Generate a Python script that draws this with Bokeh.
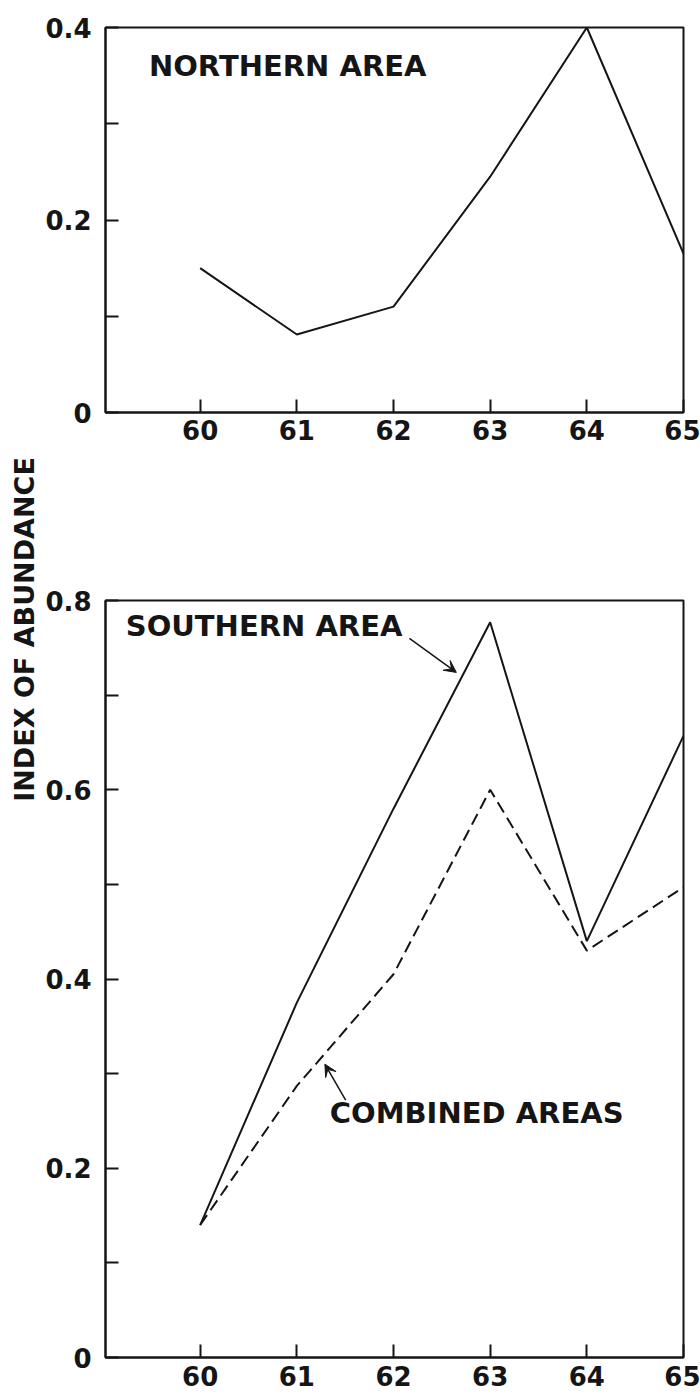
import math
from bokeh.plotting import figure
from bokeh.layouts import column, row
from bokeh.models import Label, Arrow, VeeHead, Range1d, FixedTicker
from bokeh.embed import file_html
from bokeh.resources import INLINE

# ---- data ----
years = [60, 61, 62, 63, 64, 65]
northern = [0.15, 0.081, 0.11, 0.245, 0.40, 0.165]
southern = [0.14, 0.375, 0.58, 0.777, 0.44, 0.657]
combined = [0.14, 0.287, 0.405, 0.60, 0.43, 0.497]
x_tick_labels = ["60", "61", "62", "63", "64", "65"]
top_y_ticks = [0, 0.2, 0.4]
top_y_labels = ["0", "0.2", "0.4"]
top_y_minor = [0.1, 0.3]
bot_y_ticks = [0, 0.2, 0.4, 0.6, 0.8]
bot_y_labels = ["0", "0.2", "0.4", "0.6", "0.8"]
bot_y_minor = [0.1, 0.3, 0.5, 0.7]

FONT = "DejaVu Sans"
INK = "#151515"
TITLE_W = 42
PLOT_W = 700 - TITLE_W


def style(p, yticks, ylabels, yminor, xstandoff):
    p.xgrid.visible = False
    p.ygrid.visible = False
    p.outline_line_color = INK
    p.outline_line_width = 2
    p.outline_line_alpha = 1
    p.background_fill_color = "white"
    p.border_fill_color = "white"
    xa = p.xaxis[0]
    ya = p.yaxis[0]
    xa.ticker = FixedTicker(ticks=years)
    xa.major_label_overrides = {y: l for y, l in zip(years, x_tick_labels)}
    ya.ticker = FixedTicker(ticks=yticks, minor_ticks=yminor)
    ya.major_label_overrides = {t: l for t, l in zip(yticks, ylabels)}
    for ax in (xa, ya):
        ax.axis_line_color = INK
        ax.axis_line_width = 2
        ax.major_tick_line_color = INK
        ax.major_tick_line_width = 2
        ax.minor_tick_line_color = INK
        ax.minor_tick_line_width = 2
        ax.major_tick_out = 0
        ax.minor_tick_out = 0
        ax.major_tick_in = 13
        ax.minor_tick_in = 13
        ax.major_label_text_font = FONT
        ax.major_label_text_font_size = "26px"
        ax.major_label_text_font_style = "bold"
        ax.major_label_text_color = INK
    xa.minor_tick_line_color = None
    xa.major_label_standoff = xstandoff
    ya.major_label_standoff = 14


def area_label(p, x, y, text):
    p.add_layout(Label(x=x, y=y, text=text, text_font=FONT, text_font_style="bold",
                       text_font_size="29px", text_color=INK, text_baseline="middle"))


# narrow strip holding the shared y-axis title
pt = figure(width=TITLE_W, height=1397, x_range=Range1d(0, TITLE_W), y_range=Range1d(1397, 0),
            output_backend="svg", toolbar_location=None,
            x_axis_location=None, y_axis_location=None,
            min_border_left=0, min_border_right=0, min_border_top=0, min_border_bottom=0)
pt.xgrid.visible = False
pt.ygrid.visible = False
pt.outline_line_color = None
pt.add_layout(Label(x=24, y=629, text="INDEX OF ABUNDANCE", angle=math.pi / 2,
                    text_font=FONT, text_font_style="bold", text_font_size="27px",
                    text_color=INK, text_align="center", text_baseline="middle"))

p1 = figure(width=PLOT_W, height=480, x_range=Range1d(59.0206, 65), y_range=Range1d(0, 0.4),
            output_backend="svg", toolbar_location=None,
            min_border_left=103 - TITLE_W, min_border_right=17,
            min_border_top=27, min_border_bottom=68)
style(p1, top_y_ticks, top_y_labels, top_y_minor, 7)
p1.line(years, northern, line_color=INK, line_width=2)
area_label(p1, 59.47, 0.3595, "NORTHERN AREA")

p2 = figure(width=PLOT_W, height=917, x_range=Range1d(59.0206, 65), y_range=Range1d(0, 0.8),
            output_backend="svg", toolbar_location=None,
            min_border_left=103 - TITLE_W, min_border_right=17,
            min_border_top=120, min_border_bottom=40)
style(p2, bot_y_ticks, bot_y_labels, bot_y_minor, 8)
p2.line(years, southern, line_color=INK, line_width=2)
p2.line(years, combined, line_color=INK, line_width=2, line_dash="12 6")
area_label(p2, 59.23, 0.773, "SOUTHERN AREA")
area_label(p2, 61.34, 0.258, "COMBINED AREAS")
p2.add_layout(Arrow(x_start=62.165, y_start=0.760, x_end=62.65, y_end=0.724,
                    line_color=INK, line_width=1.5,
                    end=VeeHead(size=12, fill_color=INK, line_color=INK)))
p2.add_layout(Arrow(x_start=61.505, y_start=0.272, x_end=61.29, y_end=0.31,
                    line_color=INK, line_width=1.5,
                    end=VeeHead(size=12, fill_color=INK, line_color=INK)))

layout = row(pt, column(p1, p2, spacing=0), spacing=0)
open("out.html", "w").write(file_html(layout, INLINE))
